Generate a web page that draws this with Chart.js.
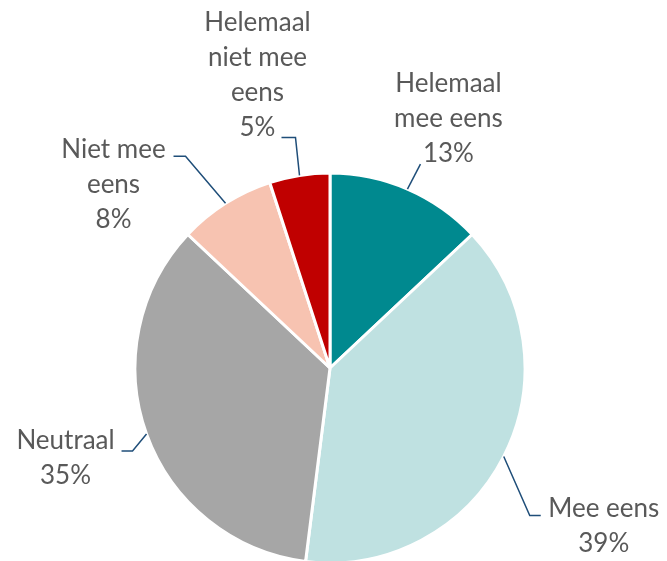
<!DOCTYPE html>
<html>
<head>
<meta charset="utf-8">
<script src="https://cdn.jsdelivr.net/npm/chart.js@4/dist/chart.umd.min.js"></script>
<style>
  html, body { margin: 0; padding: 0; background: #ffffff; overflow: hidden; }
  #wrap { width: 667px; height: 561px; overflow: hidden; }
  canvas { display: block; }
</style>
</head>
<body>
<div id="wrap"><canvas id="pie" width="667" height="570"></canvas></div>
<script>
// Survey answers, clockwise from 12 o'clock
const categories = ['Helemaal mee eens', 'Mee eens', 'Neutraal', 'Niet mee eens', 'Helemaal niet mee eens'];
const shares = [13, 39, 35, 8, 5];
const labelLines = [
    ['Helemaal', 'mee eens'],
    ['Mee eens'],
    ['Neutraal'],
    ['Niet mee', 'eens'],
    ['Helemaal', 'niet mee', 'eens']
];

const sliceColors = ['#00898F', '#BFE1E1', '#A6A6A6', '#F7C3B1', '#C00000'];

// Label placement, relative to the slice's outer mid point (style only)
// elbow: bend of the leader, tail: horizontal run after the bend, text: centre of the text block
const labelLayout = [
    { elbow: [13, -25], tail: 0, text: [41, -70] },
    { elbow: [26, 59], tail: 11, text: [100, 70] },
    { elbow: [-14, 17], tail: -11, text: [-81, 24] },
    { elbow: [-40, -47], tail: -12, text: [-112, -19] },
    { elbow: [-4, -38], tail: -14, text: [-42, -100] }
];

const FONT = '26px Lato';
const LINE_H = 35;

const leaderLabels = {
    id: 'leaderLabels',
    afterDraw(chart) {
        const ctx = chart.ctx;
        const meta = chart.getDatasetMeta(0);
        ctx.save();
        meta.data.forEach((arc, i) => {
            const p = arc.getProps(['x', 'y', 'startAngle', 'endAngle', 'outerRadius'], true);
            const mid = (p.startAngle + p.endAngle) / 2;
            const ax = p.x + Math.cos(mid) * p.outerRadius;
            const ay = p.y + Math.sin(mid) * p.outerRadius;
            const lay = labelLayout[i];

            // leader line
            ctx.strokeStyle = '#1F4E79';
            ctx.lineWidth = 1.5;
            ctx.beginPath();
            ctx.moveTo(ax, ay);
            ctx.lineTo(ax + lay.elbow[0], ay + lay.elbow[1]);
            if (lay.tail) ctx.lineTo(ax + lay.elbow[0] + lay.tail, ay + lay.elbow[1]);
            ctx.stroke();

            // text block
            const lines = labelLines[i].concat([shares[i] + '%']);
            const cx = ax + lay.text[0];
            const cy = ay + lay.text[1];
            const top = cy - (lines.length - 1) * LINE_H / 2;
            ctx.fillStyle = '#595959';
            ctx.font = FONT;
            ctx.textAlign = 'center';
            ctx.textBaseline = 'middle';
            lines.forEach((t, k) => ctx.fillText(t, cx, top + k * LINE_H));
        });
        ctx.restore();
    }
};

new Chart(document.getElementById('pie'), {
    type: 'pie',
    data: {
        labels: categories,
        datasets: [{
            data: shares,
            backgroundColor: sliceColors,
            borderColor: '#ffffff',
            borderWidth: 3,
            hoverOffset: 0
        }]
    },
    options: {
        responsive: false,
        animation: false,
        layout: { padding: { top: 171.5, bottom: 5.5, left: 133.5, right: 140.5 } },
        plugins: {
            legend: { display: false },
            tooltip: { enabled: false }
        }
    },
    plugins: [leaderLabels]
});
</script>
</body>
</html>
